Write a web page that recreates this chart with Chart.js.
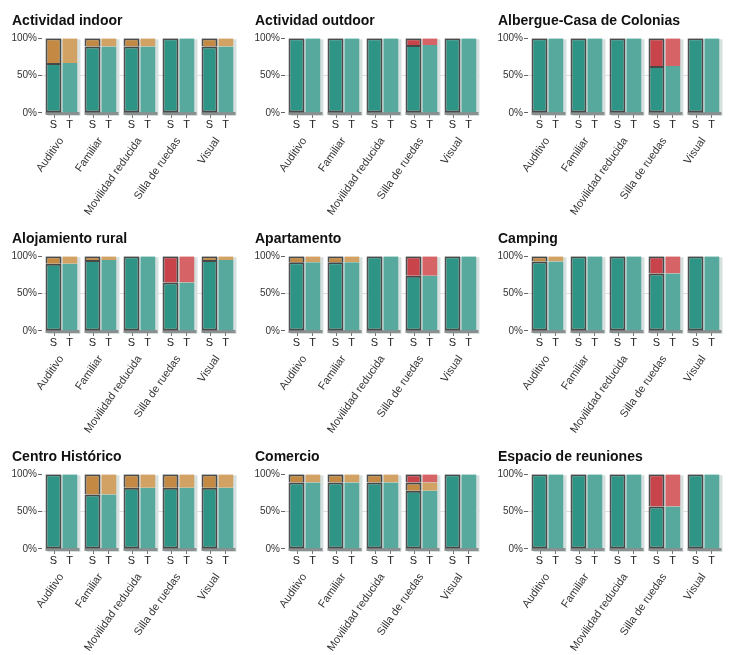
<!DOCTYPE html>
<html>
<head>
<meta charset="utf-8">
<script src="https://cdn.jsdelivr.net/npm/chart.js"></script>
<style>
  body { margin: 0; background: #fff; }
  #grid { display: grid; grid-template-columns: repeat(3, 243px); grid-auto-rows: 218px; }
  canvas { display: block; }
</style>
</head>
<body>
<div id="grid"></div>
<script>
const categorias = ["Auditivo", "Familiar", "Movilidad reducida", "Silla de ruedas", "Visual"];
const barras = ["S", "T"];
const titulos = [
  "Actividad indoor", "Actividad outdoor", "Albergue-Casa de Colonias",
  "Alojamiento rural", "Apartamento", "Camping",
  "Centro Histórico", "Comercio", "Espacio de reuniones"
];
const tickY = [0, 50, 100];

// % por panel (mismo reparto en S y T)
const verde = [
  [67, 89, 89, 100, 89],
  [100, 100, 100, 91, 100],
  [100, 100, 100, 63, 100],
  [90, 95, 100, 65, 95],
  [92, 92, 100, 74, 100],
  [93, 100, 100, 77, 100],
  [100, 73, 82, 82, 82],
  [89, 89, 89, 78, 100],
  [100, 100, 100, 57, 100]
];
const ambar = [
  [33, 11, 11, 0, 11],
  [0, 0, 0, 0, 0],
  [0, 0, 0, 0, 0],
  [10, 5, 0, 0, 5],
  [8, 8, 0, 0, 0],
  [7, 0, 0, 0, 0],
  [0, 27, 18, 18, 18],
  [11, 11, 11, 11, 0],
  [0, 0, 0, 0, 0]
];
const rojo = [
  [0, 0, 0, 0, 0],
  [0, 0, 0, 9, 0],
  [0, 0, 0, 37, 0],
  [0, 0, 0, 35, 0],
  [0, 0, 0, 26, 0],
  [0, 0, 0, 23, 0],
  [0, 0, 0, 0, 0],
  [0, 0, 0, 11, 0],
  [0, 0, 0, 43, 0]
];

const colS = ["#2e9586", "#c48a43", "#c9434b"];
const colT = ["#56a99c", "#d2a265", "#d66366"];
const font = "'Liberation Sans', Arial, sans-serif";

// sombra de cada grupo, línea inferior y etiquetas S / T
const grupos = {
  id: "grupos",
  beforeDatasetsDraw(chart) {
    const ctx = chart.ctx;
    const y = chart.scales.y;
    const top = y.getPixelForValue(100), bottom = y.getPixelForValue(0);
    const mS = chart.getDatasetMeta(0), mT = chart.getDatasetMeta(3);
    ctx.save();
    mS.data.forEach((s, i) => {
      const t = mT.data[i];
      const l = s.x - s.width / 2, r = t.x + t.width / 2;
      ctx.fillStyle = "#d6e0df";
      ctx.fillRect(l + 2, top + 1, r - l + 1, bottom - top + 2);
      ctx.fillStyle = "#8c8f8f";
      ctx.fillRect(l, bottom - 1, r - l + 2, 3);
    });
    ctx.restore();
  },
  afterDraw(chart) {
    const ctx = chart.ctx;
    const bottom = chart.scales.y.getPixelForValue(0);
    ctx.save();
    ctx.font = "11px " + font;
    ctx.fillStyle = "#222";
    ctx.strokeStyle = "#777";
    ctx.lineWidth = 1;
    ctx.textAlign = "center";
    ctx.textBaseline = "middle";
    [0, 3].forEach((d, k) => {
      chart.getDatasetMeta(d).data.forEach(b => {
        const x = Math.round(b.x) + 0.5;
        ctx.beginPath();
        ctx.moveTo(x, bottom + 2);
        ctx.lineTo(x, bottom + 5);
        ctx.stroke();
        ctx.fillText(barras[k], b.x, bottom + 12);
      });
    });
    ctx.restore();
  }
};

const grid = document.getElementById("grid");
titulos.forEach((titulo, p) => {
  const cell = document.createElement("div");
  const cv = document.createElement("canvas");
  cv.width = 243;
  cv.height = 218;
  cell.appendChild(cv);
  grid.appendChild(cell);

  const series = [verde[p], ambar[p], rojo[p]];
  const datasets = [];
  barras.forEach(stack => {
    series.forEach((vals, k) => {
      const isS = stack === "S";
      datasets.push({
        label: stack + k,
        stack: stack,
        data: vals,
        backgroundColor: isS ? colS[k] : colT[k],
        borderColor: isS ? "rgba(35,35,35,0.8)" : "rgba(255,255,255,0.75)",
        borderWidth: isS
          ? { top: 2, left: 2, right: 2, bottom: k === 0 ? 2 : 0 }
          : { top: 0, left: 1, right: 0, bottom: 0 },
        borderSkipped: false,
        barPercentage: 1,
        categoryPercentage: 0.82
      });
    });
  });

  new Chart(cv.getContext("2d"), {
    type: "bar",
    data: { labels: categorias, datasets: datasets },
    plugins: [grupos],
    options: {
      responsive: false,
      animation: false,
      devicePixelRatio: 1,
      layout: { padding: { left: 12, right: 6, top: 0, bottom: 0 } },
      plugins: {
        legend: { display: false },
        tooltip: { enabled: false },
        title: {
          display: true,
          text: titulo,
          align: "start",
          color: "#111",
          font: { family: font, size: 14, weight: "bold" },
          padding: { top: 13, bottom: 8.5 }
        }
      },
      scales: {
        x: {
          stacked: true,
          grid: { display: false, drawTicks: false },
          border: { display: false },
          ticks: {
            autoSkip: false,
            minRotation: 55,
            maxRotation: 55,
            padding: 22,
            color: "#333",
            font: { family: font, size: 11 }
          },
          afterFit: s => {
            s.height = 105;
            s.paddingLeft = 0;
            s.paddingRight = 0;
          }
        },
        y: {
          stacked: true,
          min: 0,
          max: 100,
          z: 1,
          afterBuildTicks: s => { s.ticks = tickY.map(v => ({ value: v })); },
          grid: {
            color: c => c.tick && c.tick.value === 50 ? "rgba(0,0,0,0.13)" : "transparent",
            tickColor: "#666",
            tickLength: 4
          },
          border: { display: false },
          ticks: {
            padding: 1,
            color: "#333",
            font: { family: font, size: 10 },
            callback: v => v + "%"
          },
          afterFit: s => {
            s.width = 30;
            s.paddingTop = 0;
            s.paddingBottom = 0;
          }
        }
      }
    }
  });
});
</script>
</body>
</html>
